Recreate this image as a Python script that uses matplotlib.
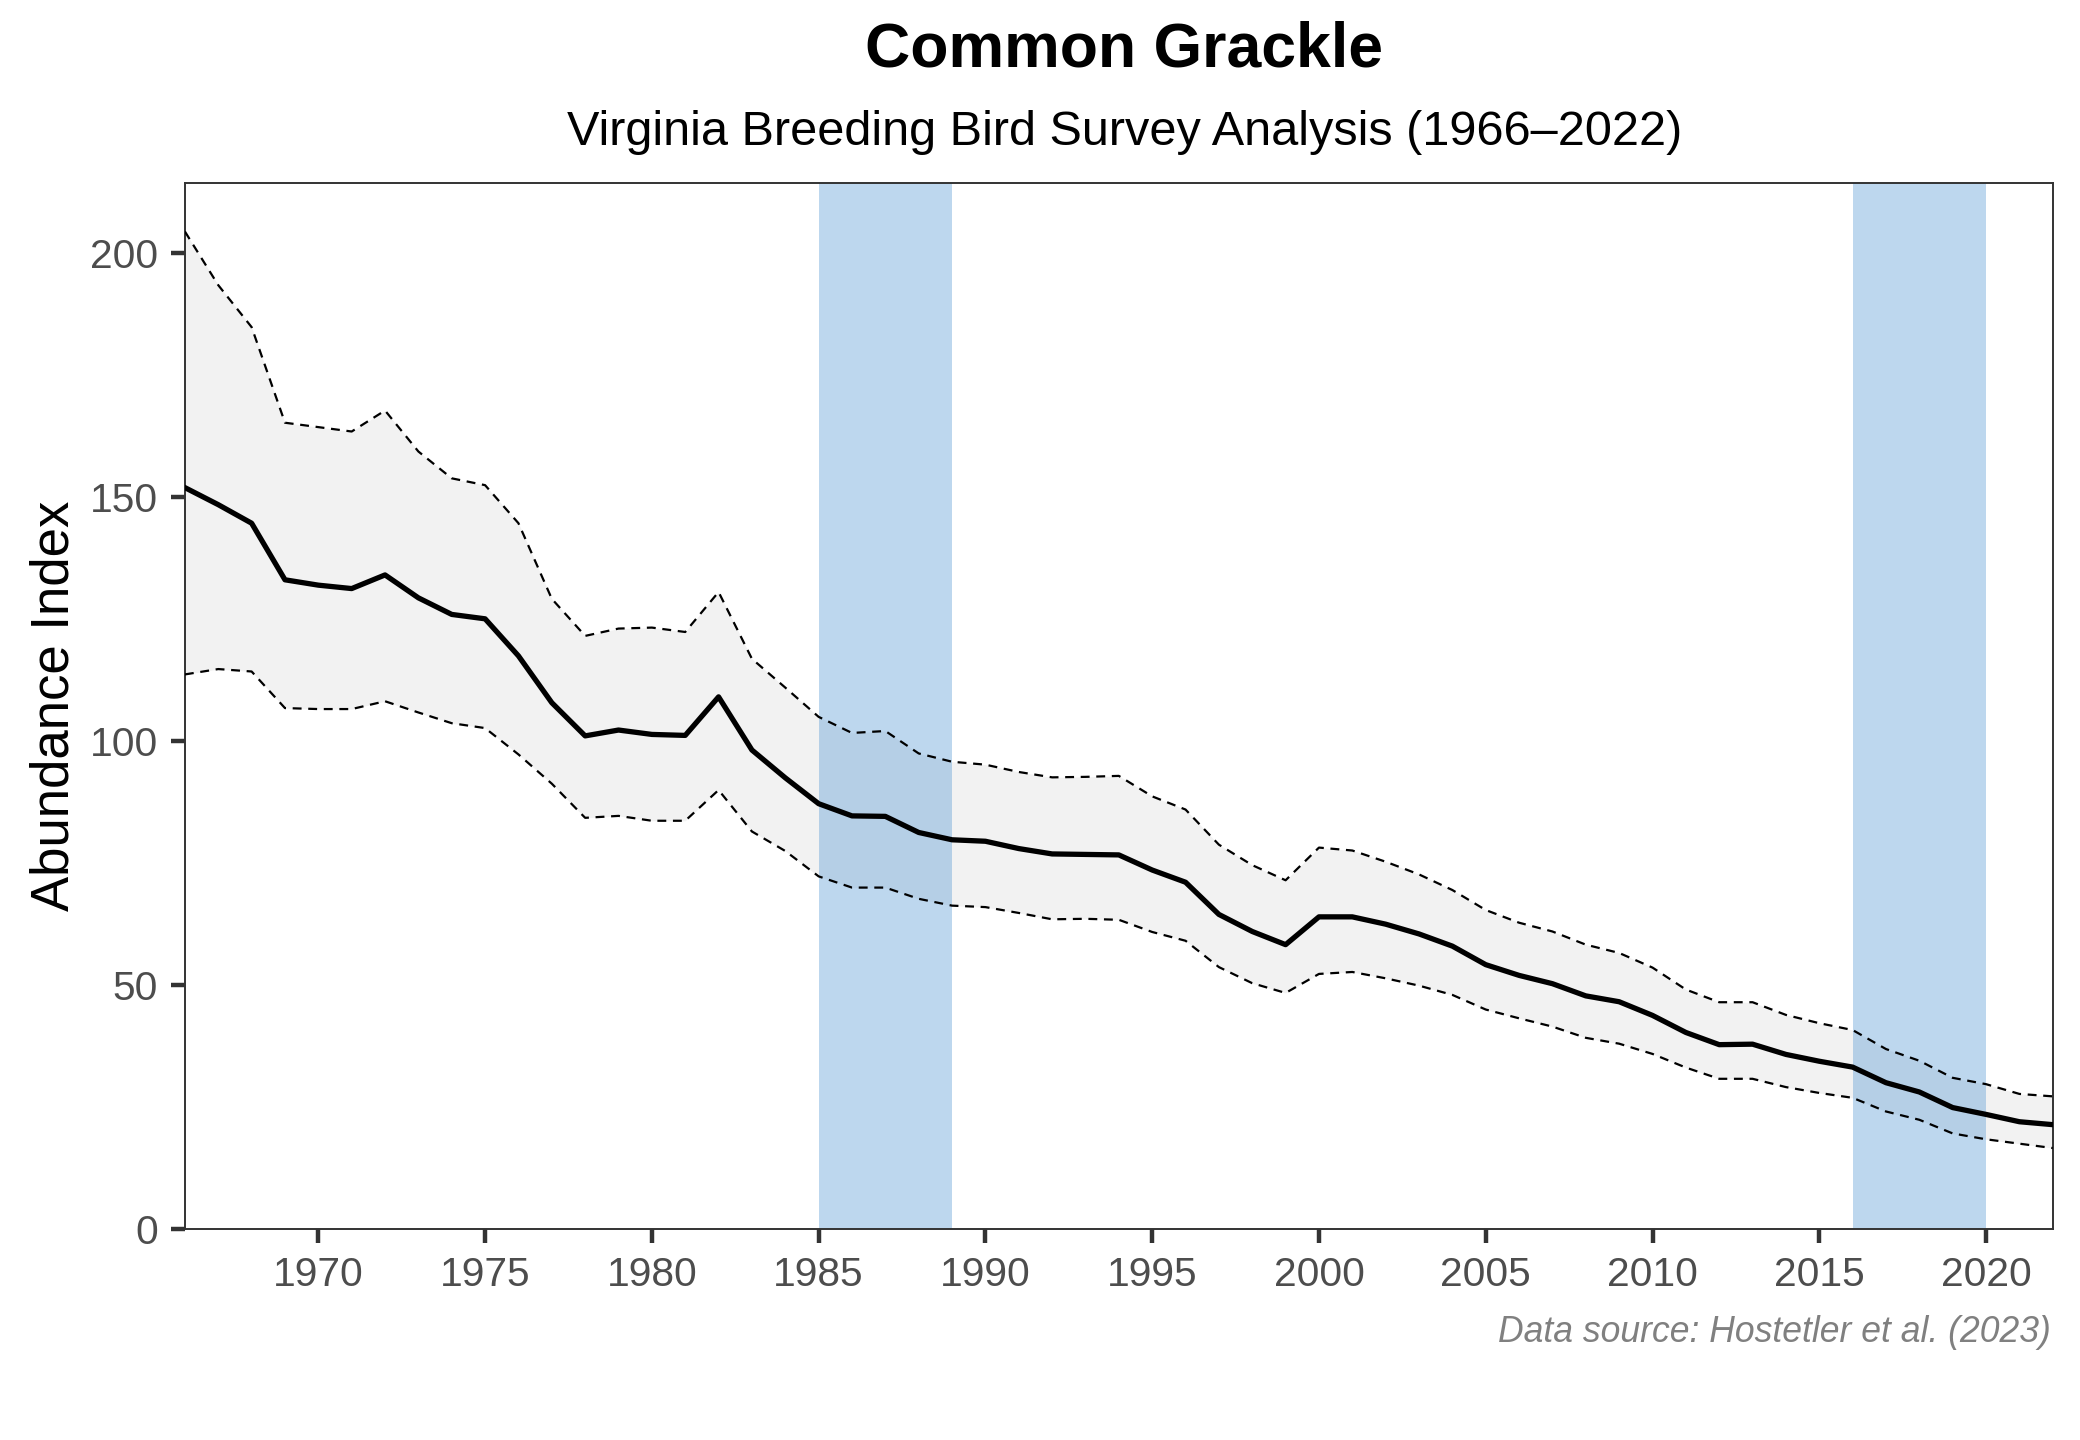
import numpy as np
import matplotlib
matplotlib.use("Agg")
import matplotlib.pyplot as plt

plt.rcParams['font.family'] = ['Liberation Sans', 'DejaVu Sans']

# Abundance index, Common Grackle, Virginia BBS 1966-2022
years = list(range(1966, 2023))
index_mean = [
    152.0, 148.5, 144.7, 133.1, 132.0, 131.3, 134.1, 129.4, 126.0, 125.1,
    117.5, 107.9, 101.1, 102.3, 101.4, 101.2, 109.1, 98.2, 92.5, 87.2,
    84.7, 84.6, 81.3, 79.8, 79.5, 78.0, 76.9, 76.8, 76.7, 73.6,
    71.1, 64.5, 61.0, 58.3, 64.0, 64.0, 62.5, 60.5, 58.0, 54.2,
    52.0, 50.3, 47.8, 46.6, 43.8, 40.3, 37.8, 37.9, 35.8, 34.4,
    33.2, 30.0, 28.1, 24.9, 23.5, 22.0, 21.4,
]
index_upper = [
    204.5, 193.5, 184.9, 165.3, 164.4, 163.5, 167.8, 159.4, 153.9, 152.5,
    144.7, 129.2, 121.6, 123.1, 123.3, 122.4, 130.6, 116.9, 111.0, 105.0,
    101.7, 102.1, 97.5, 95.8, 95.2, 93.7, 92.6, 92.7, 92.9, 88.7,
    86.0, 78.8, 74.6, 71.5, 78.2, 77.6, 75.3, 72.7, 69.5, 65.4,
    62.8, 61.0, 58.3, 56.6, 53.6, 49.1, 46.5, 46.5, 43.9, 42.2,
    40.8, 36.9, 34.5, 31.0, 29.7, 27.7, 27.2,
]
index_lower = [
    113.7, 114.8, 114.3, 106.8, 106.6, 106.6, 108.2, 105.9, 103.7, 102.7,
    97.3, 91.3, 84.3, 84.7, 83.7, 83.7, 90.0, 81.5, 77.5, 72.3,
    70.0, 70.0, 67.7, 66.3, 66.0, 64.8, 63.5, 63.6, 63.4, 60.9,
    59.1, 53.7, 50.4, 48.4, 52.3, 52.7, 51.4, 49.9, 48.0, 45.0,
    43.2, 41.5, 39.2, 38.0, 35.9, 33.1, 30.8, 30.8, 29.1, 27.9,
    26.9, 24.1, 22.4, 19.6, 18.4, 17.5, 16.6,
]
# highlighted periods
band_start = [1985, 2016]
band_end = [1989, 2020]

x_ticks = [1970, 1975, 1980, 1985, 1990, 1995, 2000, 2005, 2010, 2015, 2020]
y_ticks = [0, 50, 100, 150, 200]

fig = plt.figure(figsize=(10.4, 7.2), dpi=200)
ax = fig.add_axes([0.0889, 0.1465, 0.898, 0.7266])

# confidence ribbon
ax.fill_between(years, index_lower, index_upper, color='#F2F2F2', linewidth=0, zorder=1)

# highlight bands
for s, e in zip(band_start, band_end):
    ax.axvspan(s, e, color='#5B9BD5', alpha=0.4, linewidth=0, zorder=2)

ax.plot(years, index_upper, color='black', linewidth=0.8, linestyle=(0, (4, 3)), zorder=3)
ax.plot(years, index_lower, color='black', linewidth=0.8, linestyle=(0, (4, 3)), zorder=3)
ax.plot(years, index_mean, color='black', linewidth=1.9, zorder=4, solid_joinstyle='round')

ax.set_xlim(1966, 2022)
ax.set_ylim(0, 214.5)
ax.set_xticks(x_ticks)
ax.set_yticks(y_ticks)

for sp in ax.spines.values():
    sp.set_color('#333333')
    sp.set_linewidth(0.7)
ax.tick_params(axis='both', colors='#333333', width=1.6, length=5,
               labelsize=14.7, labelcolor='#4D4D4D', pad=4.6)

ax.set_ylabel('Abundance Index', fontsize=19, color='black')
ax.yaxis.set_label_coords(-0.0564, 0.5)

fig.text(0.5405, 0.965, 'Common Grackle', ha='center', va='center',
         fontsize=22.5, fontweight='bold')
fig.text(0.5405, 0.908, 'Virginia Breeding Bird Survey Analysis (1966\u20132022)',
         ha='center', va='center', fontsize=17.5)
fig.text(0.9862, 0.075, 'Data source: Hostetler et al. (2023)', ha='right', va='center',
         fontsize=12.8, style='italic', color='#808080')

fig.savefig('out.png', dpi=200, facecolor='white')
